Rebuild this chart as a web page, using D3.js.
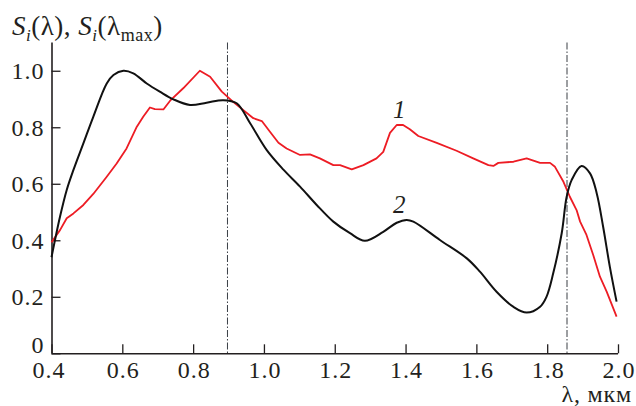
<!DOCTYPE html>
<html>
<head>
<meta charset="utf-8">
<script src="https://cdn.jsdelivr.net/npm/d3@7"></script>
<style>
  html, body { margin: 0; padding: 0; background: #fff; }
  svg { display: block; }
  text { font-family: "Liberation Serif", "Times New Roman", serif; fill: #231f20; }
</style>
</head>
<body>
<svg id="chart" width="636" height="406"></svg>
<script>
// ---- data ----
const xTicks = [0.4, 0.6, 0.8, 1.0, 1.2, 1.4, 1.6, 1.8, 2.0];
const yTicks = [0, 0.2, 0.4, 0.6, 0.8, 1.0];
const markerLines = [0.897, 1.856];

const lambda2 = [0.400,0.424,0.443,0.462,0.490,0.518,0.556,0.575,0.603,0.631,0.669,0.706,0.744,0.791,0.838,0.885,0.923,0.961,1.008,1.055,1.102,1.149,1.196,1.243,1.285,1.337,1.375,1.403,1.422,1.497,1.573,1.610,1.657,1.704,1.742,1.780,1.798,1.817,1.841,1.855,1.869,1.897,1.921,1.940,1.958,1.977,1.996];
const values2 = [0.340,0.483,0.578,0.649,0.743,0.837,0.955,0.985,1.000,0.991,0.955,0.926,0.899,0.879,0.887,0.896,0.885,0.814,0.719,0.650,0.590,0.525,0.466,0.425,0.398,0.430,0.462,0.472,0.466,0.401,0.336,0.289,0.218,0.165,0.144,0.165,0.200,0.283,0.425,0.554,0.613,0.663,0.637,0.566,0.448,0.306,0.183];

const lambda1 = [0.400,0.424,0.443,0.462,0.490,0.518,0.556,0.584,0.612,0.641,0.659,0.678,0.692,0.716,0.735,0.772,0.819,0.848,0.881,0.913,0.970,0.994,1.017,1.041,1.064,1.102,1.130,1.158,1.196,1.215,1.248,1.281,1.318,1.337,1.356,1.375,1.393,1.412,1.436,1.488,1.544,1.591,1.634,1.648,1.662,1.705,1.742,1.780,1.808,1.822,1.846,1.864,1.883,1.893,1.911,1.930,1.949,1.968,1.996];
const values1 = [0.393,0.436,0.478,0.495,0.525,0.564,0.625,0.672,0.725,0.802,0.837,0.870,0.864,0.863,0.894,0.938,1.000,0.979,0.926,0.890,0.832,0.822,0.784,0.745,0.725,0.702,0.704,0.690,0.666,0.666,0.651,0.666,0.690,0.713,0.780,0.808,0.808,0.793,0.769,0.745,0.717,0.690,0.666,0.663,0.674,0.678,0.690,0.674,0.674,0.660,0.607,0.554,0.507,0.466,0.419,0.348,0.271,0.218,0.130];

const curveLabels = [{text: "1", x: 1.382, y: 0.833}, {text: "2", x: 1.382, y: 0.496}];

// ---- layout ----
const svg = d3.select("#chart");
const mLeft = 51.5, mRight = 618, mTop = 42.5, mBottom = 353.3;
const x = d3.scaleLinear().domain([0.4, 2.0]).range([mLeft, mRight]);
const y = d3.scaleLinear().domain([0, 1.1]).range([mBottom, mTop]);
const ink = "#231f20";

// marker dash-dot lines
svg.selectAll("line.marker").data(markerLines).enter().append("line")
  .attr("class", "marker")
  .attr("x1", d => x(d)).attr("x2", d => x(d))
  .attr("y1", y(1.1)).attr("y2", mBottom)
  .attr("stroke", "#3a3f45").attr("stroke-width", 1)
  .attr("stroke-dasharray", "7,2,1.5,2");

// axes
const xAxis = d3.axisBottom(x).tickValues(xTicks).tickSize(-9).tickPadding(25)
  .tickFormat(d => d3.format(".1f")(d));
const gx = svg.append("g").attr("transform", `translate(0,${mBottom})`).call(xAxis);
gx.select(".domain").attr("d", `M${mLeft},0.5H${mRight}`).attr("stroke", ink).attr("stroke-width", 1.6);
gx.selectAll(".tick line").attr("stroke", ink).attr("stroke-width", 1.3);
gx.selectAll(".tick text").attr("font-size", 24).attr("font-family", "Liberation Serif")
  .attr("letter-spacing", 1).attr("fill", ink).attr("dy", 0)
  .attr("dx", d => d === 0.4 ? -3 : 0.5);

const yAxis = d3.axisLeft(y).tickValues(yTicks).tickSize(-9).tickPadding(7)
  .tickFormat(d => d === 0 ? "0" : d3.format(".1f")(d));
const gy = svg.append("g").attr("transform", `translate(${mLeft},0)`).call(yAxis);
gy.select(".domain").attr("d", `M0.5,${mTop}V${mBottom}`).attr("stroke", ink).attr("stroke-width", 1.6);
gy.selectAll(".tick line").attr("stroke", ink).attr("stroke-width", 1.3);
gy.selectAll(".tick text").attr("font-size", 24).attr("font-family", "Liberation Serif")
  .attr("letter-spacing", 1).attr("fill", ink)
  .attr("dy", d => d === 0 ? -1 : "0.34em");

// curves
const line = d3.line().x(d => x(d[0])).y(d => y(d[1])).curve(d3.curveCatmullRom.alpha(0.5));
const lineRed = d3.line().x(d => x(d[0])).y(d => y(d[1])).curve(d3.curveLinear);

svg.append("path")
  .datum(d3.zip(lambda1, values1))
  .attr("d", lineRed)
  .attr("fill", "none").attr("stroke", "#ed1c24").attr("stroke-width", 1.8)
  .attr("stroke-linejoin", "round");

svg.append("path")
  .datum(d3.zip(lambda2, values2))
  .attr("d", line)
  .attr("fill", "none").attr("stroke", "#111").attr("stroke-width", 2);

// curve labels
svg.selectAll("text.clabel").data(curveLabels).enter().append("text")
  .attr("class", "clabel")
  .attr("x", d => x(d.x)).attr("y", d => y(d.y))
  .attr("text-anchor", "middle")
  .attr("font-size", 25).attr("font-style", "italic")
  .text(d => d.text);

// y title
const title = svg.append("text").attr("x", 12).attr("y", 35).attr("font-size", 27).attr("letter-spacing", 0.5);
title.append("tspan").attr("font-style", "italic").text("S");
title.append("tspan").attr("font-style", "italic").attr("font-size", 17).attr("dy", 6).text("i");
title.append("tspan").attr("dy", -6).text("(λ), ");
title.append("tspan").attr("font-style", "italic").text("S");
title.append("tspan").attr("font-style", "italic").attr("font-size", 17).attr("dy", 6).text("i");
title.append("tspan").attr("dy", -6).text("(λ");
title.append("tspan").attr("font-size", 18).attr("dy", 6).text("max");
title.append("tspan").attr("dy", -6).text(")");

// x title
svg.append("text").attr("x", 632).attr("y", 402).attr("text-anchor", "end")
  .attr("font-size", 24).attr("letter-spacing", 0.8).text("λ, мкм");
</script>
</body>
</html>
